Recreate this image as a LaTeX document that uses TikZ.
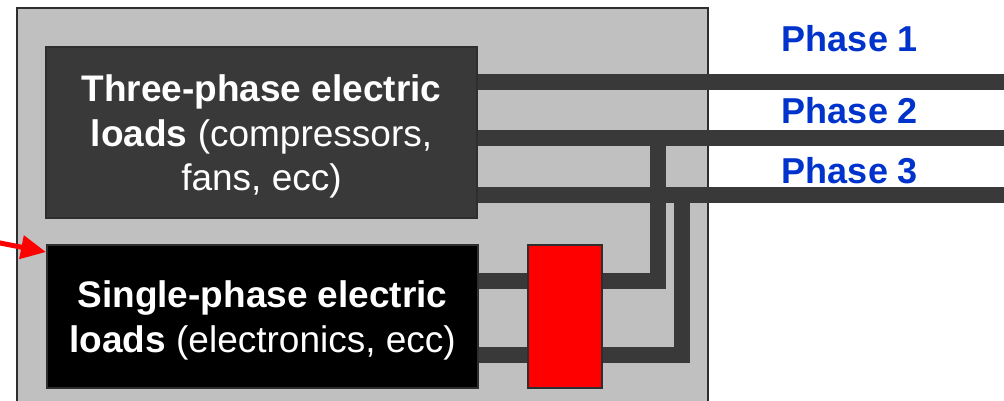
\documentclass[tikz,border=0pt]{standalone}
\usepackage{fontspec}
\setmainfont{Liberation Sans}
\usetikzlibrary{arrows.meta}
\definecolor{panelgray}{HTML}{C0C0C0}
\definecolor{wiregray}{HTML}{393939}
\definecolor{edgegray}{HTML}{2E2E2E}
\definecolor{phaseblue}{HTML}{0033CC}
\newcommand\toppad{\rule{0pt}{35pt}}
\tikzset{
  loadbox/.style={draw=edgegray,line width=2pt,minimum width=431pt,text=white,
    align=center,inner sep=0pt,font=\fontsize{37}{44.5}\selectfont},
  wire/.style={wiregray,line width=16pt,line join=miter},
  phaselabel/.style={text=phaseblue,anchor=base,font=\fontsize{36}{43}\selectfont\bfseries},
}

\begin{document}
\begin{tikzpicture}[x=1pt,y=-1pt]
  \useasboundingbox (0,0) rectangle (1004,400);
  \filldraw[fill=panelgray,draw=edgegray,line width=2pt] (17,8) rectangle (708,420);
  % loads
  \node[loadbox,fill=wiregray,minimum height=171pt] (three) at (261.5,132.5)
    {\toppad\textbf{Three-phase electric}\\\textbf{loads} (compressors,\\fans, ecc)};
  \node[loadbox,fill=black,minimum height=143pt] (single) at (262.5,316.5)
    {\toppad\textbf{Single-phase electric}\\\textbf{loads} (electronics, ecc)};
  % phases
  \node[phaselabel] (ph1) at (850,51) {Phase 1};
  \node[phaselabel] (ph2) at (850,123) {Phase 2};
  \node[phaselabel] (ph3) at (850,183) {Phase 3};
  \coordinate (end1) at (1010,82);
  \coordinate (end2) at (1010,138);
  \coordinate (end3) at (1010,195);
  \coordinate (tap2) at (658,138);
  \coordinate (tap3) at (682,195);
  \coordinate (leg2) at (658,281);
  \coordinate (leg3) at (682,355);
  \node[draw=edgegray,line width=2pt,fill=red,minimum width=74pt,minimum height=143pt,
    inner sep=0pt] (switch) at (565,316.5) {};
  \draw[wire] (three.east |- end1) -- (end1);
  \draw[wire] (three.east |- end2) -- (end2);
  \draw[wire] (three.east |- end3) -- (end3);
  \draw[wire] (switch.east |- leg2) -- (leg2) -- (tap2);
  \draw[wire] (switch.east |- leg3) -- (leg3) -- (tap3);
  \draw[wire] (single.east |- leg2) -- (switch.west |- leg2);
  \draw[wire] (single.east |- leg3) -- (switch.west |- leg3);
  % feed arrow
  \coordinate (feed) at (-5,242);
  \draw[red,line width=5pt,-{Triangle[length=25pt,width=23pt]}] (feed) -- ([yshift=-8pt]single.north west);
\end{tikzpicture}
\end{document}
